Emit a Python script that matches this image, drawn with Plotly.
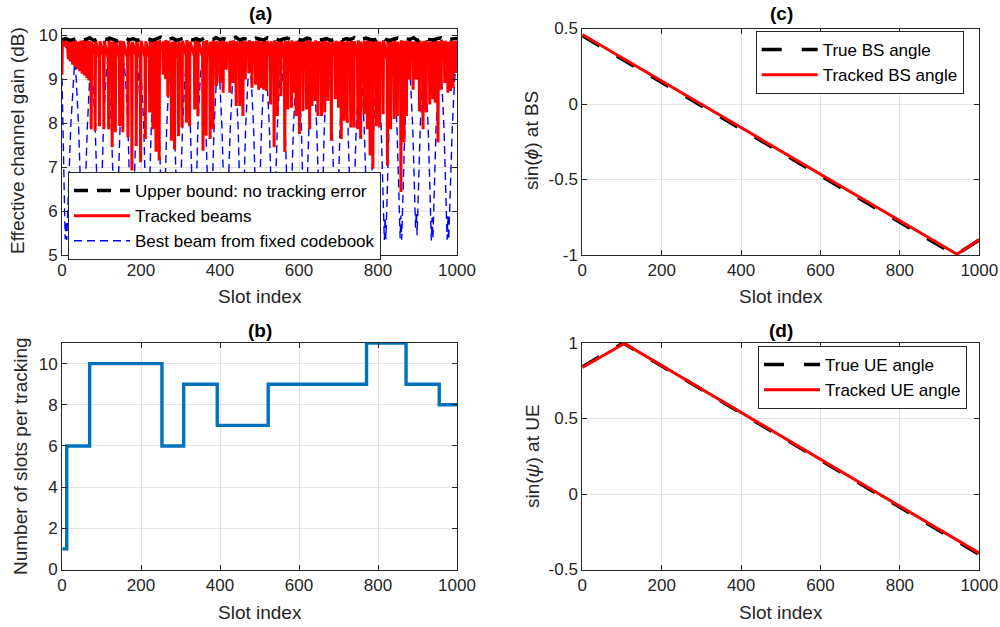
import plotly.graph_objects as go

FONT = "Liberation Sans, Arial, Helvetica, sans-serif"
AX_COLOR = "#262626"
GRID = "#e3e3e3"

# ---------------- (a) effective channel gain ----------------
slots_ub = list(range(0, 1001, 10))
upper_bound = [
    9.90, 9.92, 9.88, 9.91, 9.93, 9.89, 9.90, 9.94, 9.88, 9.91,
    9.92, 9.89, 9.93, 9.90, 9.87, 9.91, 9.94, 9.89, 9.92, 9.88,
    9.90, 9.93, 9.91, 9.88, 9.92, 9.95, 9.89, 9.90, 9.93, 9.88,
    9.91, 9.94, 9.90, 9.89, 9.92, 9.88, 9.93, 9.91, 9.89, 9.94,
    9.90, 9.92, 9.88, 9.91, 9.95, 9.89, 9.92, 9.90, 9.88, 9.93,
    9.91, 9.89, 9.94, 9.90, 9.92, 9.88, 9.91, 9.93, 9.89, 9.92,
    9.90, 9.88, 9.93, 9.91, 9.94, 9.89, 9.90, 9.92, 9.88, 9.91,
    9.93, 9.89, 9.92, 9.90, 9.94, 9.88, 9.91, 9.93, 9.90, 9.89,
    9.92, 9.95, 9.90, 9.88, 9.91, 9.93, 9.89, 9.92, 9.90, 9.94,
    9.88, 9.91, 9.93, 9.90, 9.89, 9.92, 9.94, 9.90, 9.91, 9.93,
    9.92,
]

# tracked beams: slots of the gain dips and the dip values
red_dip_x = [
    0, 6, 12, 16, 21, 27, 33, 39, 45, 51,
    57, 63, 68, 74, 84, 95, 106, 118, 127, 135,
    146, 154, 167, 177, 188, 199, 211, 222, 230, 238,
    246, 256, 262, 268, 277, 285, 295, 304, 315, 323,
    336, 344, 357, 365, 375, 382, 391, 400, 408, 416,
    425, 433, 441, 450, 458, 464, 473, 481, 490, 498,
    505, 511, 518, 528, 537, 545, 554, 564, 572, 581,
    587, 593, 601, 610, 619, 627, 633, 641, 648, 657,
    665, 673, 682, 692, 700, 707, 714, 722, 731, 739,
    749, 756, 765, 773, 780, 787, 796, 804, 813, 824,
    832, 841, 849, 858, 866, 872, 880, 889, 897, 905,
    914, 922, 931, 939, 945, 952, 960, 969, 977, 984,
    990, 996,
]
red_dip_y = [
    9.10, 9.74, 9.70, 9.45, 9.40, 9.33, 9.28, 9.22, 9.18, 9.12,
    9.08, 9.02, 8.97, 7.86, 7.82, 7.93, 7.86, 7.86, 7.45, 7.79,
    7.93, 7.79, 7.67, 6.92, 7.48, 7.11, 7.64, 8.24, 7.86, 7.35,
    7.15, 9.10, 9.00, 8.60, 7.60, 7.40, 7.70, 7.90, 8.01, 7.93,
    8.31, 8.16, 7.37, 7.71, 7.64, 7.86, 8.84, 8.91, 8.69, 9.21,
    8.69, 8.91, 8.39, 8.39, 8.16, 8.99, 9.14, 8.80, 8.87, 8.76,
    8.80, 8.76, 8.73, 8.42, 7.45, 8.16, 8.61, 7.34, 8.31, 8.35,
    8.69, 8.16, 7.75, 8.27, 8.31, 7.86, 8.39, 8.50, 8.16, 8.16,
    8.24, 8.50, 7.60, 8.54, 8.35, 7.64, 8.05, 8.01, 7.90, 7.90,
    7.86, 7.64, 8.20, 7.86, 7.26, 6.96, 7.93, 7.90, 8.20, 7.03,
    7.86, 8.09, 8.16, 6.43, 7.56, 8.16, 8.99, 8.76, 8.99, 8.27,
    7.86, 8.24, 8.42, 8.54, 8.46, 7.56, 8.76, 8.91, 8.69, 8.73,
    8.80, 9.14,
]
# gain right after each re-alignment (one per dip)
red_post_y = [
    9.86, 9.88, 9.85, 9.87, 9.89, 9.86, 9.88, 9.85, 9.87, 9.88,
    9.86, 9.89, 9.87, 9.85, 9.88, 9.86, 9.87, 9.89, 9.85, 9.88,
    9.87, 9.86, 9.88, 9.85, 9.89, 9.87, 9.86, 9.88, 9.85, 9.87,
    9.88, 9.86, 9.89, 9.87, 9.85, 9.88, 9.86, 9.87, 9.89, 9.85,
    9.88, 9.87, 9.86, 9.88, 9.85, 9.89, 9.87, 9.86, 9.88, 9.85,
    9.87, 9.88, 9.86, 9.89, 9.87, 9.85, 9.88, 9.86, 9.87, 9.89,
    9.85, 9.88, 9.87, 9.86, 9.88, 9.85, 9.89, 9.87, 9.86, 9.88,
    9.85, 9.87, 9.88, 9.86, 9.89, 9.87, 9.85, 9.88, 9.86, 9.87,
    9.89, 9.85, 9.88, 9.87, 9.86, 9.88, 9.85, 9.89, 9.87, 9.86,
    9.88, 9.85, 9.87, 9.88, 9.86, 9.89, 9.87, 9.85, 9.88, 9.86,
    9.87, 9.89, 9.85, 9.88, 9.87, 9.86, 9.88, 9.85, 9.89, 9.87,
    9.86, 9.88, 9.85, 9.87, 9.88, 9.86, 9.89, 9.87, 9.85, 9.88,
    9.86, 9.87,
]
# gain just before each dip (decayed level), for dips 2..last
red_pre_y = [
    9.80, 9.78, 9.62, 9.58, 9.55, 9.52, 9.50, 9.48, 9.45, 9.43,
    9.40, 9.38, 9.50, 9.55, 9.48, 9.52, 9.46, 9.50, 9.56, 9.49,
    9.53, 9.47, 9.51, 9.55, 9.45, 9.50, 9.48, 9.54, 9.46, 9.52,
    9.60, 9.50, 9.45, 9.48, 9.52, 9.46, 9.50, 9.55, 9.49, 9.53,
    9.47, 9.51, 9.45, 9.50, 9.54, 9.56, 9.52, 9.58, 9.60, 9.55,
    9.57, 9.53, 9.50, 9.55, 9.60, 9.62, 9.56, 9.58, 9.54, 9.59,
    9.57, 9.55, 9.52, 9.48, 9.53, 9.56, 9.47, 9.52, 9.55, 9.58,
    9.50, 9.48, 9.53, 9.55, 9.49, 9.52, 9.56, 9.50, 9.53, 9.51,
    9.55, 9.47, 9.52, 9.50, 9.46, 9.53, 9.49, 9.51, 9.48, 9.50,
    9.45, 9.52, 9.47, 9.43, 9.40, 9.48, 9.50, 9.53, 9.42, 9.49,
    9.52, 9.50, 9.40, 9.46, 9.53, 9.60, 9.57, 9.62, 9.55, 9.48,
    9.53, 9.56, 9.58, 9.57, 9.50, 9.60, 9.62, 9.58, 9.60, 9.61,
    9.63,
]
red_end_x = 1000
red_end_y = 9.60

# best beam from fixed codebook (arches between codebook crossovers)
blue_x = [
    0,
    8, 10, 12, 22, 28, 32, 36, 42,
    51, 53, 55, 64, 70, 74, 78, 84,
    93, 95, 97, 105, 111, 115, 119, 125,
    134, 136, 138, 147, 153, 157, 161, 167,
    175, 177, 179, 187, 193, 197, 201, 207,
    214, 216, 218, 226, 232, 236, 240, 246,
    254, 256, 258, 265, 271, 275, 279, 285,
    293, 295, 297, 305, 311, 315, 319, 325,
    333, 335, 337, 344, 350, 354, 358, 364,
    373, 375, 377, 385, 391, 395, 399, 405,
    413, 415, 417, 426, 432, 436, 440, 446,
    453, 455, 457, 465, 471, 475, 479, 485,
    493, 495, 497, 505, 511, 515, 519, 525,
    533, 535, 537, 545, 551, 555, 559, 565,
    573, 575, 577, 586, 592, 596, 600, 606,
    613, 615, 617, 625, 631, 635, 639, 645,
    653, 655, 657, 664, 670, 674, 678, 684,
    692, 694, 696, 704, 710, 714, 718, 724,
    732, 734, 736, 745, 751, 755, 759, 765,
    774, 776, 778, 788, 794, 798, 802, 808,
    816, 818, 820, 828, 834, 838, 842, 848,
    856, 858, 860, 868, 874, 878, 882, 888,
    895, 897, 899, 907, 913, 917, 921, 927,
    935, 937, 939, 947, 953, 957, 961, 967,
    975, 977, 979, 988, 994, 998, 1000,
]
blue_y = [
    9.02,
    5.36, 5.78, 5.34, 7.90, 9.00, 9.39, 9.02, 7.92,
    5.40, 5.82, 5.35, 7.88, 9.01, 9.38, 8.99, 7.89,
    5.33, 5.75, 5.38, 7.93, 9.03, 9.40, 9.00, 7.90,
    5.37, 5.80, 5.33, 7.91, 9.00, 9.37, 9.01, 7.88,
    5.35, 5.74, 5.36, 7.89, 8.99, 9.39, 9.02, 7.93,
    5.38, 5.79, 5.34, 7.92, 9.02, 9.40, 8.98, 7.90,
    5.34, 5.76, 5.37, 7.90, 9.01, 9.38, 9.00, 7.91,
    5.36, 5.81, 5.35, 7.88, 9.00, 9.39, 9.01, 7.89,
    5.39, 5.77, 5.33, 7.92, 9.03, 9.37, 8.99, 7.92,
    5.35, 5.80, 5.36, 7.91, 9.00, 9.40, 9.02, 7.90,
    5.33, 5.75, 5.38, 7.89, 8.98, 9.38, 9.00, 7.88,
    5.37, 5.82, 5.34, 7.93, 9.01, 9.39, 9.01, 7.91,
    5.36, 5.78, 5.35, 7.90, 9.02, 9.37, 8.98, 7.89,
    5.34, 5.76, 5.37, 7.88, 9.00, 9.40, 9.02, 7.92,
    5.38, 5.79, 5.33, 7.91, 8.99, 9.38, 9.00, 7.90,
    5.35, 5.81, 5.36, 7.92, 9.01, 9.39, 9.01, 7.88,
    5.37, 5.74, 5.34, 7.89, 9.03, 9.37, 8.99, 7.91,
    5.33, 5.80, 5.38, 7.90, 9.00, 9.40, 9.02, 7.93,
    5.36, 5.77, 5.35, 7.92, 9.02, 9.38, 9.00, 7.89,
    5.39, 5.82, 5.34, 7.88, 8.99, 9.39, 9.01, 7.90,
    5.34, 5.86, 5.36, 7.91, 9.01, 9.36, 8.98, 7.92,
    5.38, 5.90, 5.35, 7.90, 9.00, 9.38, 9.00, 7.88,
    5.62, 5.98, 5.45, 7.93, 9.02, 9.37, 9.01, 7.91,
    5.33, 5.85, 5.37, 7.89, 8.99, 9.39, 9.02, 7.90,
    5.35, 5.88, 5.34, 7.90, 9.00, 9.35, 9.25,
]

# ---------------- (b) slots per tracking ----------------
b_x = [1, 12, 70, 253, 308, 393, 522, 771, 871, 955, 1000]
b_y = [1, 6, 10, 6, 9, 7, 9, 11, 9, 8, 8]

# ---------------- (c) BS angle ----------------
bs_true_x = [0, 940, 1000]
bs_true_y = [0.452, -1.0, -0.90]
bs_track_x = [0, 944, 1000]
bs_track_y = [0.460, -0.995, -0.897]

# ---------------- (d) UE angle ----------------
ue_true_x = [0, 103, 1000]
ue_true_y = [0.842, 1.0, -0.400]
ue_track_x = [0, 106, 1000]
ue_track_y = [0.838, 0.997, -0.392]

# build the tracked-beam polyline: decayed level -> dip -> recovered level
red_x, red_y = [], []
for i, (sx, dy) in enumerate(zip(red_dip_x, red_dip_y)):
    if i > 0:
        red_x.append(sx - 1)
        red_y.append(red_pre_y[i - 1])
    red_x.append(sx)
    red_y.append(dy)
    red_x.append(sx + 1)
    red_y.append(red_post_y[i])
red_x.append(red_end_x)
red_y.append(red_end_y)

fig = go.Figure()

fig.add_trace(go.Scatter(x=blue_x, y=blue_y, mode="lines", name="Best beam from fixed codebook",
                         line=dict(color="#0000FF", width=1.4, dash="8px,5px"),
                         xaxis="x", yaxis="y", legend="legend", legendrank=3))
fig.add_trace(go.Scatter(x=red_x, y=red_y, mode="lines", name="Tracked beams",
                         line=dict(color="#FF0000", width=3),
                         xaxis="x", yaxis="y", legend="legend", legendrank=2))
fig.add_trace(go.Scatter(x=slots_ub, y=upper_bound, mode="lines", name="Upper bound: no tracking error",
                         line=dict(color="#000000", width=3.5, dash="14px,9px"),
                         xaxis="x", yaxis="y", legend="legend", legendrank=1))

fig.add_trace(go.Scatter(x=b_x, y=b_y, mode="lines", line_shape="hv", showlegend=False,
                         line=dict(color="#0072BD", width=3.4), xaxis="x2", yaxis="y2"))

fig.add_trace(go.Scatter(x=bs_true_x, y=bs_true_y, mode="lines", name="True BS angle",
                         line=dict(color="#000000", width=3.5, dash="20px,20px"),
                         xaxis="x3", yaxis="y3", legend="legend2"))
fig.add_trace(go.Scatter(x=bs_track_x, y=bs_track_y, mode="lines", name="Tracked BS angle",
                         line=dict(color="#FF0000", width=3),
                         xaxis="x3", yaxis="y3", legend="legend2"))

fig.add_trace(go.Scatter(x=ue_true_x, y=ue_true_y, mode="lines", name="True UE angle",
                         line=dict(color="#000000", width=3.5, dash="20px,20px"),
                         xaxis="x4", yaxis="y4", legend="legend3"))
fig.add_trace(go.Scatter(x=ue_track_x, y=ue_track_y, mode="lines", name="Tracked UE angle",
                         line=dict(color="#FF0000", width=3),
                         xaxis="x4", yaxis="y4", legend="legend3"))


def ax(**kw):
    d = dict(showline=True, linecolor=AX_COLOR, linewidth=1, mirror="ticks", ticks="inside",
             ticklen=5, tickcolor=AX_COLOR, showgrid=True, gridcolor=GRID, gridwidth=1,
             zeroline=False, automargin=False,
             tickfont=dict(family=FONT, size=17, color=AX_COLOR))
    d.update(kw)
    return d


H = 627.0
W = 1000.0
top_dom = [1 - 255 / H, 1 - 28.5 / H]
bot_dom = [1 - 569.5 / H, 1 - 343 / H]
left_dom = [62 / W, 457 / W]
right_dom = [582.3 / W, 979.3 / W]

xticks = [0, 200, 400, 600, 800, 1000]

legend_common = dict(bgcolor="white", bordercolor=AX_COLOR, borderwidth=1,
                     font=dict(family=FONT, size=17, color="#000000"),
                     xanchor="left", yanchor="top", itemwidth=56,
                     tracegroupgap=0)

annots = []


def text(x, y, s, size=19, angle=0, bold=False):
    annots.append(dict(x=x / W, y=1 - y / H, xref="paper", yref="paper",
                       text=("<b>%s</b>" % s) if bold else s,
                       showarrow=False, textangle=angle, xanchor="center", yanchor="middle",
                       font=dict(family=FONT, size=size, color="#000000" if bold else AX_COLOR)))


text(260, 14, "(a)", bold=True)
text(260, 330, "(b)", bold=True)
text(781, 14, "(c)", bold=True)
text(781, 330, "(d)", bold=True)
text(260, 297, "Slot index")
text(260, 612, "Slot index")
text(781, 297, "Slot index")
text(781, 612, "Slot index")
text(18, 141, "Effective channel gain (dB)", angle=-90)
text(20, 456, "Number of slots per tracking", angle=-90)
text(532, 141, "sin(<i>ϕ</i>) at BS", angle=-90)
text(532, 456, "sin(<i>ψ</i>) at UE", angle=-90)

fig.update_layout(
    width=1000, height=627,
    margin=dict(l=0, r=0, t=0, b=0, autoexpand=False),
    paper_bgcolor="white", plot_bgcolor="white",
    font=dict(family=FONT, color=AX_COLOR),
    xaxis=ax(domain=left_dom, anchor="y", range=[0, 1000], tickvals=xticks),
    yaxis=ax(domain=top_dom, anchor="x", range=[5, 10.15], tickvals=[5, 6, 7, 8, 9, 10]),
    xaxis2=ax(domain=left_dom, anchor="y2", range=[0, 1000], tickvals=xticks),
    yaxis2=ax(domain=bot_dom, anchor="x2", range=[0, 11], tickvals=[0, 2, 4, 6, 8, 10]),
    xaxis3=ax(domain=right_dom, anchor="y3", range=[0, 1000], tickvals=xticks),
    yaxis3=ax(domain=top_dom, anchor="x3", range=[-1, 0.5], tickvals=[-1, -0.5, 0, 0.5],
              ticktext=["-1", "-0.5", "0", "0.5"]),
    xaxis4=ax(domain=right_dom, anchor="y4", range=[0, 1000], tickvals=xticks),
    yaxis4=ax(domain=bot_dom, anchor="x4", range=[-0.5, 1], tickvals=[-0.5, 0, 0.5, 1],
              ticktext=["-0.5", "0", "0.5", "1"]),
    legend=dict(legend_common, x=68 / W, y=1 - 172 / H),
    legend2=dict(legend_common, x=755.7 / W, y=1 - 31 / H),
    legend3=dict(legend_common, x=758 / W, y=1 - 346 / H),
    annotations=annots,
    showlegend=True,
)

fig.write_html("out.html",
               config={"displayModeBar": False},
               post_script="document.body.style.margin='0px';document.body.style.overflow='hidden';")
